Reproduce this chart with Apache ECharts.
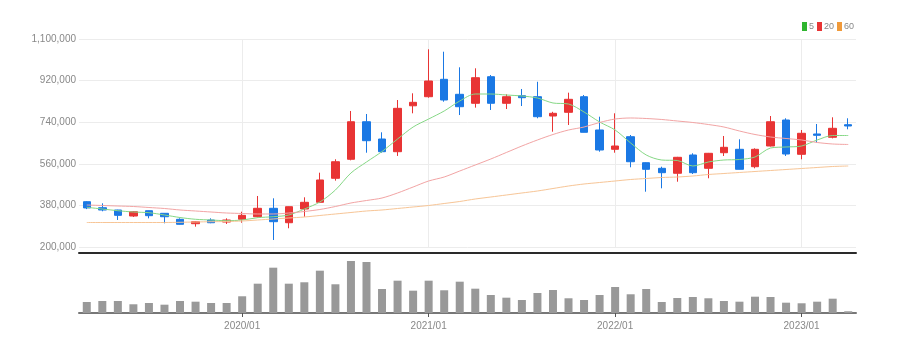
<!DOCTYPE html>
<html>
<head>
<meta charset="utf-8">
<script src="https://cdn.jsdelivr.net/npm/echarts@6/dist/echarts.min.js"></script>
<style>
  html, body { margin: 0; padding: 0; background: #fff; }
  #main { width: 901px; height: 352px; }
</style>
</head>
<body>
<div id="main"></div>
<script>
// 월봉 날짜
var months = [
    '2019/03','2019/04','2019/05','2019/06','2019/07','2019/08','2019/09','2019/10','2019/11','2019/12',
    '2020/01','2020/02','2020/03','2020/04','2020/05','2020/06','2020/07','2020/08','2020/09','2020/10','2020/11','2020/12',
    '2021/01','2021/02','2021/03','2021/04','2021/05','2021/06','2021/07','2021/08','2021/09','2021/10','2021/11','2021/12',
    '2022/01','2022/02','2022/03','2022/04','2022/05','2022/06','2022/07','2022/08','2022/09','2022/10','2022/11','2022/12',
    '2023/01','2023/02','2023/03','2023/04'
];

var openPrices = [
    396000, 370000, 360000, 334000, 357000, 345800, 319800, 300800, 316800, 308000,
    320000, 331000, 367400, 305000, 364400, 393400, 497300, 579500, 742000, 667300, 612400, 811000,
    850300, 925600, 860700, 821800, 936900, 821800, 854700, 850300, 766800, 782800, 850300, 706300,
    622700, 677300, 564800, 540500, 519000, 598100, 540500, 608000, 622700, 547400, 637000, 749500,
    601100, 689000, 674700, 729200
];
var closePrices = [
    369000, 360000, 337000, 352700, 335500, 331000, 298200, 309500, 305000, 316800,
    337000, 367400, 309500, 374400, 393400, 490000, 569000, 742000, 660000, 612400, 800000, 826000,
    918300, 836000, 807000, 932600, 821800, 850300, 846000, 763800, 778500, 839000, 696300, 619700,
    637000, 569000, 536200, 521500, 588100, 521500, 605400, 631400, 536200, 622700, 742000, 602400,
    692000, 683300, 713600, 723600
];
var lowPrices = [
    364000, 354500, 317000, 330000, 324000, 302500, 297000, 288000, 303000, 299500,
    305000, 328000, 230300, 281000, 331000, 390000, 487000, 575000, 608000, 608000, 594000, 778500,
    846000, 828700, 771000, 803000, 792800, 797000, 810000, 757000, 698900, 727900, 696000, 612400,
    608000, 544900, 439300, 454000, 482500, 515900, 497300, 593800, 536000, 540500, 635000, 593800,
    579500, 651300, 670000, 709300
];
var highPrices = [
    398000, 389000, 361000, 354000, 358000, 346000, 324000, 311000, 324000, 324000,
    352700, 420700, 410700, 375000, 415000, 521500, 579500, 788500, 775500, 696300, 836000, 865000,
    1055500, 1045000, 977500, 973200, 944000, 860700, 883700, 915000, 785000, 867700, 857700, 763800,
    778500, 684600, 566000, 547400, 590000, 605400, 607000, 680300, 666000, 627000, 766800, 756900,
    706300, 732200, 761200, 756900
];

// 이동평균선
var ma5 = [
    371800, 364400, 357100, 351400, 348400, 338500, 327600, 319900, 316800, 313800,
    316800, 326800, 331100, 338500, 364400, 394700, 446600, 520200, 567800, 613200, 667300, 719200,
    753800, 788500, 831700, 862000, 862000, 857700, 853400, 844700, 823100, 818700, 784100, 740900,
    706200, 650000, 598100, 576400, 574300, 550500, 567800, 576400, 578600, 589400, 628400, 632700,
    637000, 663000, 682400, 682400
];
var ma20 = [
    381700, 379600, 377400, 375200, 370900, 366600, 360100, 355800, 351400, 347100,
    345000, 342800, 342800, 347100, 353600, 362300, 375200, 390400, 401200, 412000, 433700, 459600,
    485600, 502900, 528800, 554800, 580800, 608900, 637000, 663000, 686800, 706200, 719200, 738700,
    753800, 758200, 756000, 751700, 745200, 738700, 730000, 719200, 701900, 686800, 676000, 669500,
    663000, 652200, 645700, 643500
];
var ma60 = [
    306000, 306000, 306000, 306000, 306000, 306000, 306900, 308200, 309500, 310300,
    312500, 316800, 321200, 325500, 329800, 336300, 342800, 349300, 355800, 360100, 366600, 373100,
    379600, 388200, 396900, 407700, 416300, 425000, 433700, 442300, 453100, 463900, 472600, 479100,
    485600, 492100, 496400, 500700, 502900, 507200, 513700, 518000, 522400, 526700, 531000, 535300,
    539700, 544000, 548300, 550500
];

// 거래량
var volumes = [
    275000, 300000, 300000, 218000, 250000, 208000, 300000, 283000, 250000, 250000,
    418000, 733000, 1133000, 733000, 768000, 1058000, 718000, 1300000, 1275000, 600000, 808000, 558000,
    808000, 568000, 783000, 608000, 450000, 383000, 325000, 500000, 575000, 368000, 325000, 450000,
    650000, 468000, 600000, 275000, 375000, 400000, 368000, 300000, 283000, 408000, 400000, 258000,
    243000, 283000, 358000, 43000
];

var yTicks = [200000, 380000, 560000, 740000, 920000, 1100000];
var yearStarts = ['2020/01', '2021/01', '2022/01', '2023/01'];

var candleData = [];
for (var i = 0; i < months.length; i++) {
    candleData.push([openPrices[i], closePrices[i], lowPrices[i], highPrices[i]]);
}

function isJanuary(index, value) {
    return months[index].slice(5) === '01';
}

var axisFont = 'Liberation Sans Narrow, Liberation Sans, sans-serif';

var myChart = echarts.init(document.getElementById('main'));

var option = {
    animation: false,
    backgroundColor: '#fff',
    legend: {
        right: 42,
        top: 17,
        icon: 'rect',
        itemWidth: 5,
        itemHeight: 9,
        itemGap: 3,
        textStyle: { color: '#888', fontSize: 9, fontFamily: axisFont, padding: [0, 0, 0, -3] },
        data: ['5', '20', '60']
    },
    grid: [
        { left: 79, right: 45, top: 39, height: 208 },
        { left: 79, right: 45, top: 258, height: 55 }
    ],
    xAxis: [
        {
            type: 'category',
            gridIndex: 0,
            data: months,
            boundaryGap: true,
            offset: 6,
            axisLine: { show: true, lineStyle: { color: '#2a2a2a', width: 2 } },
            axisTick: { show: false },
            axisLabel: { show: false },
            splitLine: { show: false }
        },
        {
            type: 'category',
            gridIndex: 1,
            data: months,
            boundaryGap: true,
            axisLine: { show: true, lineStyle: { color: '#777', width: 2 } },
            axisTick: {
                show: true,
                alignWithLabel: true,
                interval: isJanuary,
                length: 4,
                lineStyle: { color: '#555' }
            },
            axisLabel: {
                interval: isJanuary,
                color: '#888',
                fontSize: 10,
                fontFamily: axisFont,
                margin: 8
            },
            splitLine: { show: false }
        }
    ],
    yAxis: [
        {
            type: 'value',
            gridIndex: 0,
            min: yTicks[0],
            max: yTicks[yTicks.length - 1],
            interval: 180000,
            axisLine: { show: false },
            axisTick: { show: false },
            axisLabel: {
                color: '#888',
                fontSize: 10,
                fontFamily: axisFont,
                margin: 3,
                formatter: function (v) { return v.toLocaleString('en-US'); }
            },
            splitLine: { lineStyle: { color: '#ececec' } }
        },
        {
            type: 'value',
            gridIndex: 1,
            min: 0,
            max: 1375000,
            show: false,
            splitLine: { show: false }
        }
    ],
    series: [
        {
            // 연초 세로 보조선 (캔들 뒤에 그림)
            name: 'yearLine',
            type: 'line',
            z: 0,
            data: [],
            markLine: {
                silent: true,
                z: 0,
                symbol: 'none',
                label: { show: false },
                lineStyle: { color: '#ececec', type: 'solid', width: 1 },
                data: yearStarts.map(function (m) { return { xAxis: m }; })
            }
        },
        {
            name: '주가',
            type: 'candlestick',
            xAxisIndex: 0,
            yAxisIndex: 0,
            z: 3,
            barWidth: 8,
            data: candleData,
            itemStyle: {
                color: '#e83434',
                color0: '#1a78e4',
                borderColor: '#e83434',
                borderColor0: '#1a78e4',
                borderWidth: 1
            }
        },
        {
            name: '5',
            type: 'line',
            data: ma5,
            symbol: 'none',
            smooth: 0.3,
            z: 4,
            color: '#2fb52f',
            lineStyle: { width: 1, color: '#86d886' }
        },
        {
            name: '20',
            type: 'line',
            data: ma20,
            symbol: 'none',
            smooth: 0.3,
            z: 4,
            color: '#e83434',
            lineStyle: { width: 1, color: '#f2a4a4' }
        },
        {
            name: '60',
            type: 'line',
            data: ma60,
            symbol: 'none',
            smooth: 0.3,
            z: 4,
            color: '#f09a3a',
            lineStyle: { width: 1, color: '#f7c596' }
        },
        {
            name: '거래량',
            type: 'bar',
            xAxisIndex: 1,
            yAxisIndex: 1,
            barWidth: 8,
            data: volumes,
            itemStyle: { color: '#999' }
        }
    ]
};

myChart.setOption(option);
</script>
</body>
</html>
